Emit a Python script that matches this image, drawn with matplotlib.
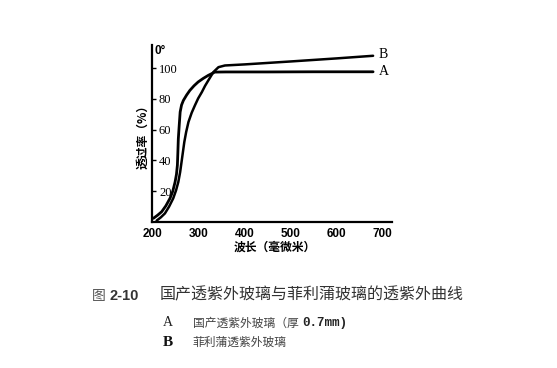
import matplotlib
matplotlib.use("Agg")
import matplotlib.pyplot as plt

plt.rcParams['font.family'] = ['Noto Sans CJK SC', 'DejaVu Sans']

# wavelength (nm) / transmittance (%)
wl_a = [203, 212, 221, 230, 239, 245, 250, 253, 255, 256, 257, 259, 261, 264, 268, 275, 282, 291,
        300, 311, 322, 336, 360, 450, 550, 679]
tr_a = [2.4, 4.4, 6.7, 10.5, 15.4, 20.0, 26.0, 31.0, 37.0, 45.0, 54.0, 63.0, 71.5, 76.0, 79.0, 82.5,
        85.5, 88.5, 91.0, 93.3, 95.3, 97.4, 97.5, 97.5, 97.6, 97.6]
wl_b = [210, 219, 228, 237, 246, 252, 257, 261, 264, 267, 270, 274, 279, 286, 293, 300, 308, 315,
        322, 333, 344, 358, 401, 500, 600, 679]
tr_b = [0.9, 3.0, 5.6, 10.0, 15.4, 20.5, 26.0, 32.5, 39.0, 45.5, 52.0, 58.5, 65.0, 71.0, 75.8, 80.3,
        84.4, 88.5, 92.0, 97.4, 100.6, 101.7, 102.4, 104.3, 106.3, 108.0]

x_ticks = [200, 300, 400, 500, 600, 700]
y_ticks = [20, 40, 60, 80, 100]

title = "国产透紫外玻璃与菲利蒲玻璃的透紫外曲线"
note_a = "国产透紫外玻璃（厚"
note_b = "菲利蒲透紫外玻璃"

fig = plt.figure(figsize=(5.57, 3.68), dpi=100)
ax = fig.add_axes([0.2729, 0.3967, 0.4309, 0.481])

ax.plot(wl_a, tr_a, color='black', lw=2.0, solid_capstyle='round', solid_joinstyle='round')
ax.plot(wl_b, tr_b, color='black', lw=1.8, solid_capstyle='round', solid_joinstyle='round')
ax.text(wl_a[-1] + 12, tr_a[-1], "A", fontsize=10, family='Liberation Serif', va='center')
ax.text(wl_b[-1] + 12, tr_b[-1] + 1, "B", fontsize=10, family='Liberation Serif', va='center')

ax.set_xlim(200, 720)
ax.set_ylim(0, 115)
for s in ['top', 'right']:
    ax.spines[s].set_visible(False)
ax.spines['left'].set_linewidth(1.6)
ax.spines['bottom'].set_linewidth(1.6)

ax.set_xticks(x_ticks)
ax.set_xticklabels([str(v) for v in x_ticks], family='Liberation Sans', fontweight='bold', fontsize=8.5)
ax.tick_params(axis='x', length=0, pad=4)
ax.set_yticks(y_ticks)
ax.set_yticklabels([str(v) for v in y_ticks], family='Liberation Serif', fontsize=9)
ax.tick_params(axis='y', direction='in', length=3, width=1, pad=-5)
for lbl in ax.get_yticklabels():
    lbl.set_horizontalalignment('left')

ax.text(205, 111, "0°", fontsize=8.5, fontweight='bold', family='Liberation Sans', va='center')
ax.set_ylabel("透过率（%）", fontsize=8.5, fontweight='bold', labelpad=2)
ax.set_xlabel("波长（毫微米）", fontsize=8.5, fontweight='bold')
ax.xaxis.set_label_coords(0.51, -0.105)

# caption under the figure
fig.text(92 / 557, 1 - 296 / 368, "图", fontsize=10, color='#555555', va='center')
fig.text(110 / 557, 1 - 296 / 368, "2-10", fontsize=10.5, fontweight='bold',
         family='Liberation Sans', color='#333333', va='center')
fig.text(160 / 557, 1 - 295 / 368, title, fontsize=11.5, color='#333333', va='center')
fig.text(163 / 557, 1 - 323 / 368, "A", fontsize=10, family='Liberation Serif', color='#222222', va='center')
fig.text(193 / 557, 1 - 323 / 368, note_a, fontsize=8.5, color='#444444', va='center')
fig.text(302 / 557, 1 - 323 / 368, "0.7mm)", fontsize=9, fontweight='bold',
         family='Liberation Mono', color='#222222', va='center')
fig.text(163 / 557, 1 - 342 / 368, "B", fontsize=11, fontweight='bold', family='Liberation Serif',
         color='#111111', va='center')
fig.text(193 / 557, 1 - 342 / 368, note_b, fontsize=8.5, color='#444444', va='center')

fig.savefig("out.png", dpi=100)
